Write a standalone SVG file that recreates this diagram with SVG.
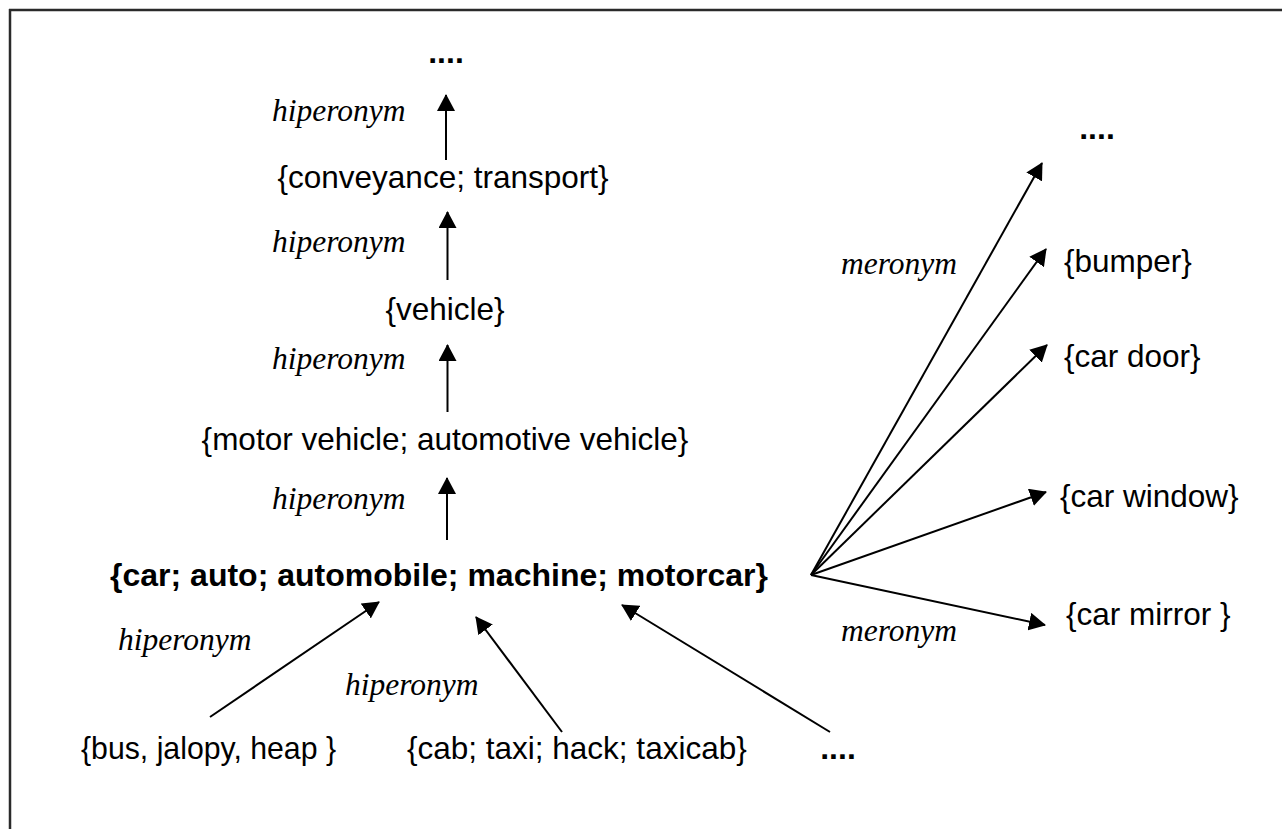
<svg xmlns="http://www.w3.org/2000/svg" width="1282" height="829" viewBox="0 0 1282 829">
<style>
.n{font-family:"Liberation Sans",Arial,sans-serif;font-size:31.5px;fill:#000}
.b{font-family:"Liberation Sans",Arial,sans-serif;font-size:32px;font-weight:bold;fill:#000}
.l{font-family:"Liberation Serif","Times New Roman",serif;font-size:31.5px;font-style:italic;fill:#000}
.c{stroke:#000;stroke-width:2;fill:none;marker-end:url(#ah)}
</style>
<defs>
<marker id="ah" viewBox="0 0 17 18" refX="16" refY="9" markerWidth="17" markerHeight="18" markerUnits="userSpaceOnUse" orient="auto">
<path d="M0,0 L17,9 L0,18 z" fill="#000"/>
</marker>
</defs>
<rect width="1282" height="829" fill="#fff"/>
<g id="frame" stroke="#2a2a2a" stroke-width="2.5">
<line x1="9" y1="10" x2="1282" y2="10"/>
<line x1="10" y1="9" x2="10" y2="829"/>
</g>
<g id="connectors">
<line class="c" x1="446" y1="160" x2="446" y2="95"/>
<line class="c" x1="447.5" y1="280" x2="447.5" y2="212"/>
<line class="c" x1="447.5" y1="412" x2="447.5" y2="345"/>
<line class="c" x1="447" y1="540" x2="447" y2="478"/>
<line class="c" x1="210" y1="717" x2="379" y2="602"/>
<line class="c" x1="562" y1="732" x2="476" y2="617"/>
<line class="c" x1="830" y1="732" x2="622" y2="605"/>
<line class="c" x1="811" y1="575" x2="1042" y2="163"/>
<line class="c" x1="811" y1="575" x2="1046" y2="249"/>
<line class="c" x1="811" y1="575" x2="1047" y2="345"/>
<line class="c" x1="811" y1="575" x2="1046" y2="492"/>
<line class="c" x1="811" y1="575" x2="1045" y2="625"/>
</g>
<g id="labels">
<text class="l" x="272" y="121">hiperonym</text>
<text class="l" x="272" y="252">hiperonym</text>
<text class="l" x="272" y="369">hiperonym</text>
<text class="l" x="272" y="509">hiperonym</text>
<text class="l" x="118" y="650">hiperonym</text>
<text class="l" x="345" y="695">hiperonym</text>
<text class="l" x="841" y="274">meronym</text>
<text class="l" x="841" y="641">meronym</text>
</g>
<g id="top-dots"><text class="b" x="446" y="63" text-anchor="middle">....</text></g>
<g id="conveyance"><text class="n" x="443" y="188" text-anchor="middle">{conveyance; transport}</text></g>
<g id="vehicle"><text class="n" x="445" y="320" text-anchor="middle">{vehicle}</text></g>
<g id="motor-vehicle"><text class="n" x="445" y="450" text-anchor="middle">{motor vehicle; automotive vehicle}</text></g>
<g id="car"><text class="b" x="439" y="586" text-anchor="middle">{car; auto; automobile; machine; motorcar}</text></g>
<g id="bus"><text class="n" x="81" y="759" textLength="255" lengthAdjust="spacingAndGlyphs">{bus, jalopy, heap }</text></g>
<g id="cab"><text class="n" x="407" y="759">{cab; taxi; hack; taxicab}</text></g>
<g id="bottom-dots"><text class="b" x="838" y="759" text-anchor="middle">....</text></g>
<g id="right-dots"><text class="b" x="1097" y="139" text-anchor="middle">....</text></g>
<g id="bumper"><text class="n" x="1064" y="272">{bumper}</text></g>
<g id="car-door"><text class="n" x="1064" y="367">{car door}</text></g>
<g id="car-window"><text class="n" x="1060" y="507">{car window}</text></g>
<g id="car-mirror"><text class="n" x="1066" y="625">{car mirror }</text></g>
</svg>
